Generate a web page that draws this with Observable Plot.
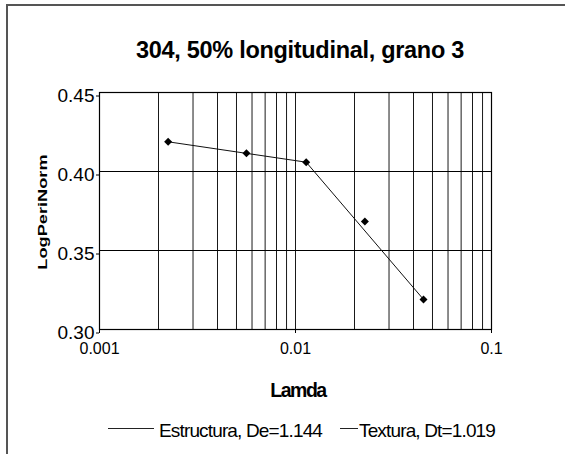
<!DOCTYPE html>
<html>
<head>
<meta charset="utf-8">
<script src="https://cdn.jsdelivr.net/npm/d3@7"></script>
<script src="https://cdn.jsdelivr.net/npm/@observablehq/plot@0.6"></script>
<style>
  html, body { margin: 0; padding: 0; background: #fff; }
  #wrap { position: relative; width: 565px; height: 454px; overflow: hidden; font-family: "Liberation Sans", Arial, sans-serif; color: #000; }
  #frame { position: absolute; left: 6px; top: 4px; width: 620px; height: 520px; border-left: 2px solid #555; border-top: 2px solid #555; }
  #chart { position: absolute; left: 0; top: 0; }
  .abs { position: absolute; white-space: nowrap; }
  #title { left: 300px; top: 50px; transform: translate(-50%, -50%); font-weight: bold; font-size: 23.5px; letter-spacing: -0.3px; }
  #ylab { left: 41.5px; top: 212px; transform: translate(-50%, -50%) rotate(-90deg) scaleX(1.4); font-weight: bold; font-size: 13px; }
  #xlab { left: 298px; top: 390px; transform: translate(-50%, -50%); font-weight: bold; font-size: 19.5px; letter-spacing: -1.5px; }
  .leg { top: 431px; transform: translateY(-50%); font-size: 19px; letter-spacing: -0.85px; }
  .sw { position: absolute; height: 0; border-top: 1px solid #222; top: 428px; }
</style>
</head>
<body>
<div id="wrap">
  <div id="frame"></div>
  <div id="chart"></div>
  <div id="title" class="abs"></div>
  <div id="ylab" class="abs"></div>
  <div id="xlab" class="abs"></div>
  <div id="sw1" class="sw" style="left:108px;width:46px"></div>
  <div id="leg1" class="abs leg" style="left:159px"></div>
  <div id="sw2" class="sw" style="left:340px;width:18px"></div>
  <div id="leg2" class="abs leg" style="left:359px"></div>
</div>
<script>
// ---- data ----
const titleText = "304, 50% longitudinal, grano 3";
const xLabel = "Lamda";
const yLabel = "LogPeriNorm";
const seriesNames = ["Estructura, De=1.144", "Textura, Dt=1.019"];

const lamda = [0.00224, 0.00562, 0.01134, 0.0226, 0.045];
const logPeriNorm = [0.4188, 0.4116, 0.4059, 0.3684, 0.319];

// fitted lines (endpoints)
const estructuraX = [0.00224, 0.01134];
const estructuraY = [0.4188, 0.4059];
const texturaX = [0.01134, 0.045];
const texturaY = [0.4059, 0.319];

const xDomain = [0.001, 0.1];
const yDomain = [0.30, 0.45];
const xMajorTicks = [0.001, 0.01, 0.1];
const xGridTicks = [0.002,0.003,0.004,0.005,0.006,0.007,0.008,0.009,0.01,0.02,0.03,0.04,0.05,0.06,0.07,0.08,0.09];
const yTicks = [0.30, 0.35, 0.40, 0.45];
const yGrid = [0.35, 0.40];

// ---- build ----
const points = lamda.map((x, i) => ({x, y: logPeriNorm[i]}));
const est = estructuraX.map((x, i) => ({x, y: estructuraY[i]}));
const tex = texturaX.map((x, i) => ({x, y: texturaY[i]}));

const chart = Plot.plot({
  width: 565,
  height: 454,
  marginLeft: 99,
  marginRight: 74,
  marginTop: 92,
  marginBottom: 125,
  style: {fontFamily: '"Liberation Sans", Arial, sans-serif', background: "transparent", color: "#000"},
  x: {type: "log", domain: xDomain},
  y: {domain: yDomain},
  marks: [
    Plot.ruleX(xGridTicks, {stroke: "#000", strokeWidth: 1, strokeOpacity: 0.9}),
    Plot.ruleY(yGrid, {stroke: "#000", strokeWidth: 1}),
    Plot.frame({stroke: "#000", strokeWidth: 1.2}),
    Plot.axisX(xMajorTicks, {tickSize: 4, tickPadding: 9, fontSize: 16, label: null, tickFormat: d => String(d), stroke: "#000", style: "letter-spacing:-1px"}),
    Plot.axisY(yTicks, {tickSize: 3, tickPadding: 2, fontSize: 19, label: null, tickFormat: d => d.toFixed(2), dy: 3.5, stroke: "#000", style: "letter-spacing:-0.8px"}),
    Plot.line(est, {x: "x", y: "y", stroke: "#111", strokeWidth: 1}),
    Plot.line(tex, {x: "x", y: "y", stroke: "#111", strokeWidth: 1}),
    Plot.dot(points, {x: "x", y: "y", symbol: "diamond2", r: 3.6, fill: "#000", stroke: "none"})
  ]
});
document.getElementById("chart").appendChild(chart);
document.getElementById("title").textContent = titleText;
document.getElementById("ylab").textContent = yLabel;
document.getElementById("xlab").textContent = xLabel;
document.getElementById("leg1").textContent = seriesNames[0];
document.getElementById("leg2").textContent = seriesNames[1];
</script>
</body>
</html>
